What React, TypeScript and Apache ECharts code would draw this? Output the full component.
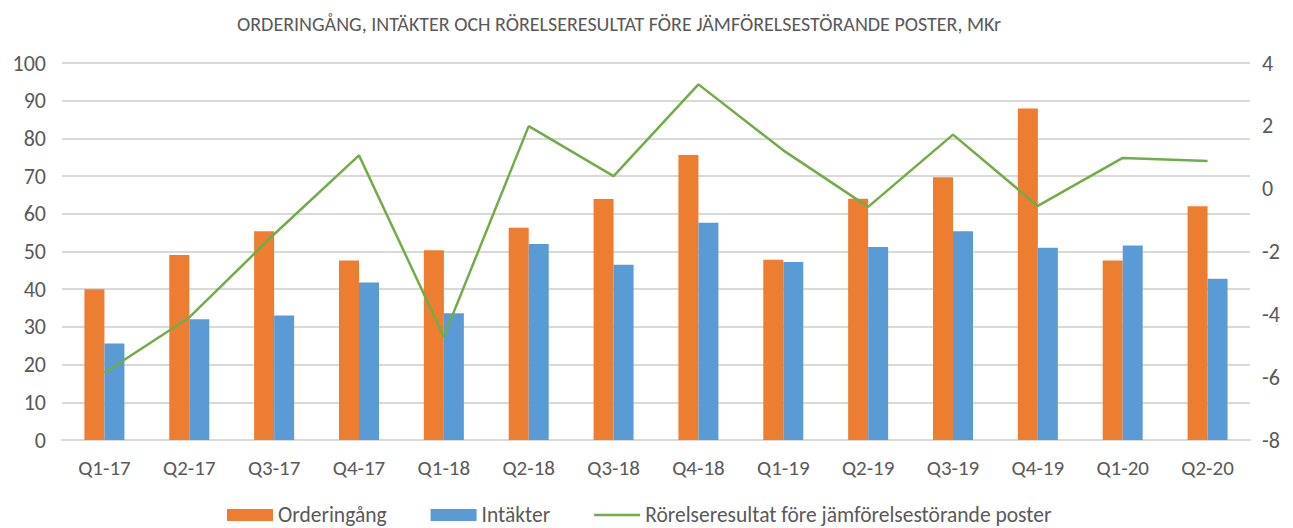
import React, { useEffect, useRef } from "react";
import * as echarts from "echarts";

const categories = ["Q1-17", "Q2-17", "Q3-17", "Q4-17", "Q1-18", "Q2-18", "Q3-18", "Q4-18", "Q1-19", "Q2-19", "Q3-19", "Q4-19", "Q1-20", "Q2-20"];
const orderingang = [40.0, 49.1, 55.4, 47.6, 50.3, 56.3, 63.9, 75.6, 47.8, 64.0, 69.7, 87.9, 47.6, 62.0];
const intakter = [25.6, 32.0, 33.0, 41.8, 33.6, 52.0, 46.5, 57.6, 47.2, 51.2, 55.4, 51.0, 51.6, 42.8];
const rorelseresultat = [-5.86, -4.1, -1.45, 1.06, -4.71, 1.99, 0.4, 3.32, 1.22, -0.58, 1.72, -0.55, 0.98, 0.88];

const titleText = "ORDERINGÅNG, INTÄKTER OCH RÖRELSERESULTAT FÖRE JÄMFÖRELSESTÖRANDE POSTER, MKr";
const seriesNames = ["Orderingång", "Intäkter", "Rörelseresultat före jämförelsestörande poster"];

const FONT = "Carlito, Lato, 'Open Sans', sans-serif";
const TXT = "#595959";

export default function App() {
  const ref = useRef<HTMLDivElement>(null);
  useEffect(() => {
    if (!ref.current) return;
    const chart = echarts.init(ref.current, null, { renderer: "svg" });
    chart.setOption({
      animation: false,
      backgroundColor: "#ffffff",
      title: {
        text: titleText,
        left: 232,
        top: 9,
        textStyle: { fontFamily: FONT, fontSize: 20, fontWeight: "normal", color: TXT },
      },
      legend: {
        top: 499,
        left: 222,
        itemGap: 44,
        itemWidth: 46,
        itemHeight: 12,
        textStyle: { fontFamily: FONT, fontSize: 21.5, lineHeight: 22, color: TXT },
        data: [
          { name: seriesNames[0], icon: "rect" },
          { name: seriesNames[1], icon: "rect" },
          { name: seriesNames[2], icon: "path://M0,0H46V2.5H0Z" },
        ],
      },
      grid: { left: 62, right: 43, top: 63, bottom: 88, containLabel: false },
      xAxis: {
        type: "category",
        data: categories,
        axisLine: { show: true, lineStyle: { color: "#D9D9D9", width: 2 } },
        axisTick: { show: false },
        axisLabel: { fontFamily: FONT, fontSize: 21, color: TXT, margin: 17 },
      },
      yAxis: [
        {
          type: "value",
          min: 0,
          max: 100,
          interval: 10,
          axisLine: { show: false },
          axisTick: { show: false },
          splitLine: { lineStyle: { color: "#D9D9D9", width: 2 } },
          axisLabel: { fontFamily: FONT, fontSize: 22, color: TXT, margin: 16 },
        },
        {
          type: "value",
          min: -8,
          max: 4,
          interval: 2,
          axisLine: { show: false },
          axisTick: { show: false },
          splitLine: { show: false },
          axisLabel: { fontFamily: FONT, fontSize: 22, color: TXT, margin: 12 },
        },
      ],
      series: [
        {
          name: seriesNames[0],
          type: "bar",
          data: orderingang,
          barWidth: 20,
          barGap: "0%",
          itemStyle: { color: "#ED7D31" },
        },
        {
          name: seriesNames[1],
          type: "bar",
          data: intakter,
          barWidth: 20,
          barGap: "0%",
          itemStyle: { color: "#5B9BD5" },
        },
        {
          name: seriesNames[2],
          type: "line",
          yAxisIndex: 1,
          data: rorelseresultat,
          symbol: "none",
          lineStyle: { color: "#70AD47", width: 2.5 },
          itemStyle: { color: "#70AD47" },
        },
      ],
    });
    return () => chart.dispose();
  }, []);
  return <div ref={ref} style={{ width: 1293, height: 528, position: "absolute", left: 0, top: 0 }} />;
}
